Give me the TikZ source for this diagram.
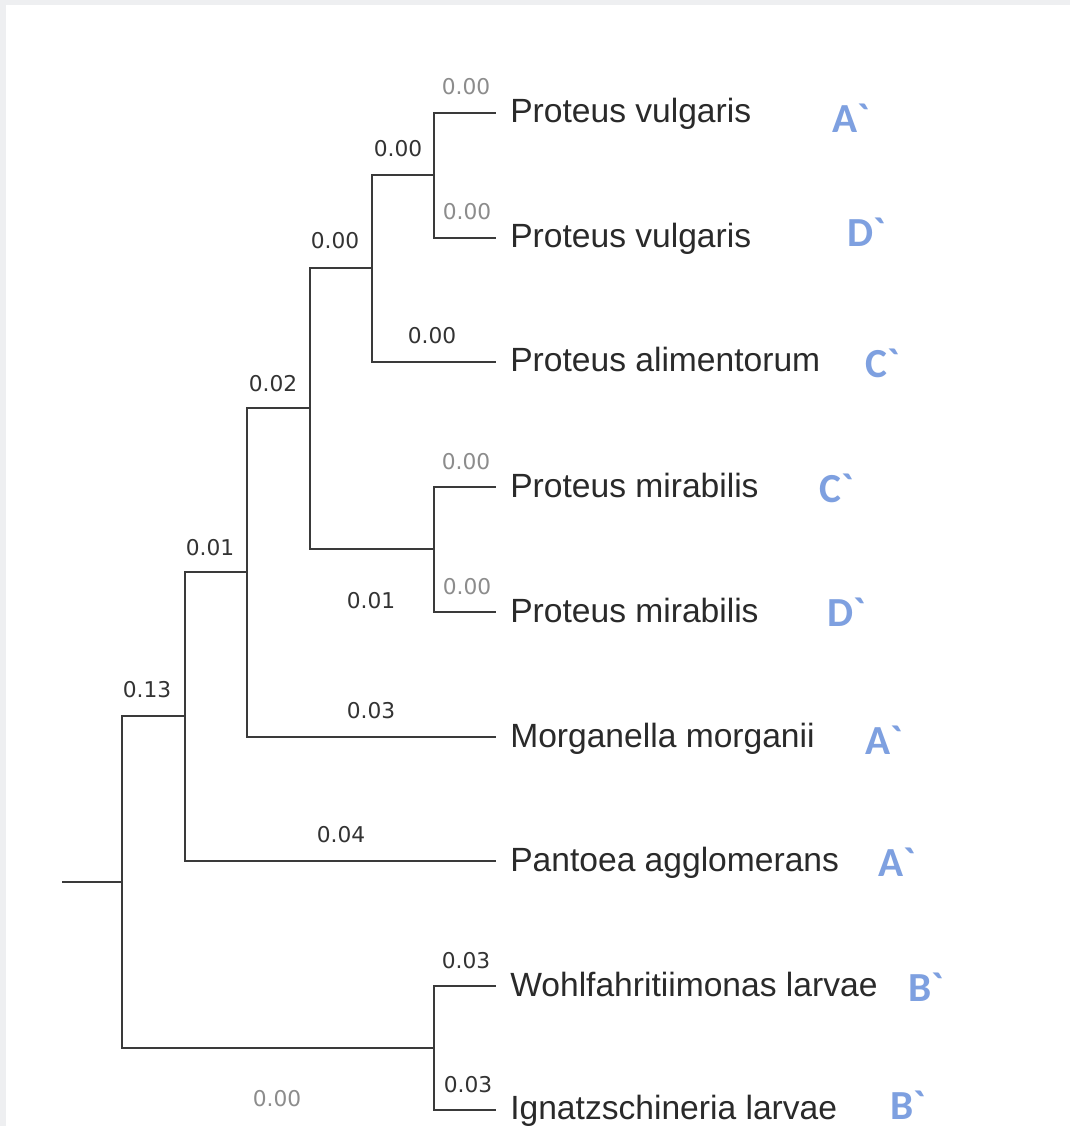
\documentclass[tikz,border=0pt]{standalone}
\usepackage{fontspec}
\setmainfont{Liberation Sans}
\newfontfamily\brfont{DejaVu Sans}
\newfontfamily\grpfont{Carlito}
\definecolor{framegray}{HTML}{EEEFF1}
\definecolor{linegray}{HTML}{3A3A3A}
\definecolor{lblgray}{HTML}{8C8C8C}
\definecolor{lbldark}{HTML}{333333}
\definecolor{grpblue}{HTML}{7EA0E0}
\definecolor{txtdark}{HTML}{2A2A2A}
\tikzset{
  branch/.style={draw=linegray, line width=1.6pt, line cap=rect},
  species/.style={anchor=base west, inner sep=0pt, text=txtdark, font=\fontsize{25.2}{28}\selectfont},
  blen/.style={anchor=base, inner sep=0pt, text=lbldark, font=\brfont\fontsize{16.3}{18}\selectfont},
  blenlight/.style={blen, text=lblgray},
  grp/.style={anchor=base west, inner sep=0pt, text=grpblue, font=\grpfont\bfseries\fontsize{31}{34}\selectfont},
}
\begin{document}
\begin{tikzpicture}[x=0.75pt, y=-0.75pt]
\useasboundingbox (0,0) rectangle (1070,1126);
\clip (0,0) rectangle (1070,1126);
\fill[framegray] (0,0) rectangle (1070,1126);
\fill[white] (6,5) rectangle (1070,1126);

% leaf tips
\coordinate (t1) at (495,113);
\coordinate (t2) at (495,238);
\coordinate (t3) at (495,362);
\coordinate (t4) at (495,487);
\coordinate (t5) at (495,612);
\coordinate (t6) at (495,737);
\coordinate (t7) at (495,861);
\coordinate (t8) at (495,986);
\coordinate (t9) at (495,1110);
% internal nodes
\coordinate (n1) at (434,175);
\coordinate (n2) at (372,268);
\coordinate (n3) at (434,549);
\coordinate (n4) at (310,408);
\coordinate (n5) at (247,572);
\coordinate (n6) at (185,716);
\coordinate (n7) at (434,1048);
\coordinate (root) at (122,882);
\coordinate (stub) at (63,882);

% branches
\draw[branch] (t1) -| (n1) |- (t2);
\draw[branch] (n1) -| (n2) |- (t3);
\draw[branch] (t4) -| (n3) |- (t5);
\draw[branch] (n2) -| (n4) |- (n3);
\draw[branch] (n4) -| (n5) |- (t6);
\draw[branch] (n5) -| (n6) |- (t7);
\draw[branch] (t8) -| (n7) |- (t9);
\draw[branch] (n6) -| (root) |- (n7);
\draw[branch] (stub) -- (root);

% species
\node[species] (s1) at (510,123) {Proteus vulgaris};
\node[species] (s2) at (510,248) {Proteus vulgaris};
\node[species] (s3) at (510,372) {Proteus alimentorum};
\node[species] (s4) at (510,497) {Proteus mirabilis};
\node[species] (s5) at (510,622) {Proteus mirabilis};
\node[species] (s6) at (510,747) {Morganella morganii};
\node[species] (s7) at (510,871) {Pantoea agglomerans};
\node[species] (s8) at (510,996) {Wohlfahritiimonas larvae};
\node[species] (s9) at (510,1119) {Ignatzschineria larvae};

% group letters
\node[grp] (g1) at (832,133) {A\char"0060};
\node[grp] (g2) at (847,247) {D\char"0060};
\node[grp] (g3) at (865,377) {C\char"0060};
\node[grp] (g4) at (819,502) {C\char"0060};
\node[grp] (g5) at (827,626) {D\char"0060};
\node[grp] (g6) at (865,754) {A\char"0060};
\node[grp] (g7) at (878,876) {A\char"0060};
\node[grp] (g8) at (908,1001) {B\char"0060};
\node[grp] (g9) at (890,1119) {B\char"0060};

% branch lengths
\node[blenlight] (b1) at (466,95) {0.00};
\node[blen] (b2) at (398,157) {0.00};
\node[blenlight] (b3) at (467,220) {0.00};
\node[blen] (b4) at (335,249) {0.00};
\node[blen] (b5) at (432,344) {0.00};
\node[blen] (b6) at (273,391) {0.02};
\node[blenlight] (b7) at (466,469) {0.00};
\node[blen] (b8) at (210,555) {0.01};
\node[blen] (b9) at (371,608) {0.01};
\node[blenlight] (b10) at (467,594) {0.00};
\node[blen] (b11) at (147,697) {0.13};
\node[blen] (b12) at (371,718) {0.03};
\node[blen] (b13) at (341,842) {0.04};
\node[blen] (b14) at (466,968) {0.03};
\node[blen] (b15) at (468,1092) {0.03};
\node[blenlight] (b16) at (277,1106) {0.00};
\end{tikzpicture}
\end{document}
